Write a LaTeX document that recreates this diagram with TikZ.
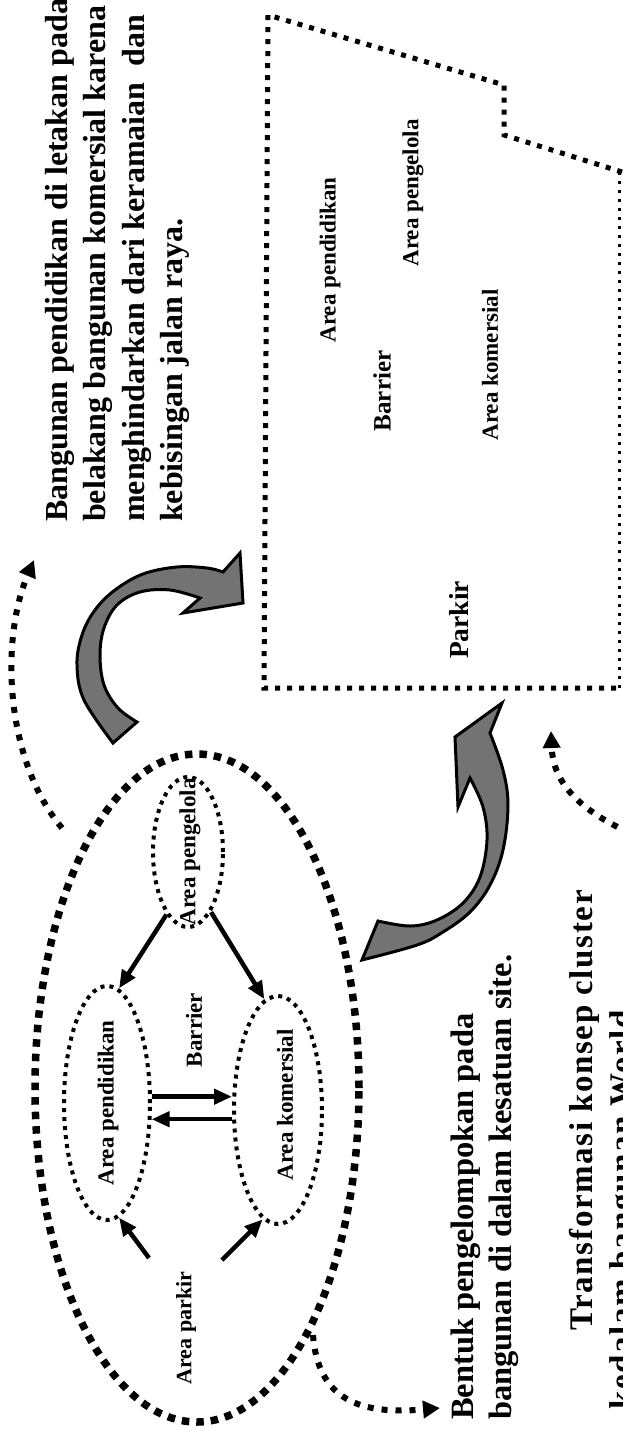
\documentclass[tikz,border=0pt]{standalone}
\usepackage{fontspec}
\setmainfont{Liberation Serif}
\usetikzlibrary{arrows.meta,shapes.geometric}
\begin{document}
\begin{tikzpicture}[x=1pt,y=-1pt,
  lbl/.style={font=\bfseries\fontsize{23}{26}\selectfont, rotate=90, inner sep=0pt},
  bigtxt/.style={font=\bfseries\fontsize{32}{38.5}\selectfont, rotate=90, inner sep=0pt, align=left},
  trf/.style={font=\bfseries\fontsize{33}{38}\selectfont\addfontfeature{LetterSpace=5}, rotate=90, inner sep=0pt},
  bigdots/.style={line width=7.5pt, dash pattern=on 7.5pt off 7pt},
  arcdots/.style={line width=6pt, dash pattern=on 6pt off 8pt, -{Triangle[length=17pt,width=17pt]}},
  sitedots/.style={line width=5pt, dash pattern=on 5pt off 7pt},
  smalldots/.style={line width=4pt, dash pattern=on 4pt off 5pt},
  blk/.style={line width=4.5pt, -{Triangle[length=18pt,width=15pt]}},
  grayarrow/.style={fill=black!55, draw=black, line width=3pt, line join=miter}
]
\useasboundingbox (0,0) rectangle (622,1430);
\fill[white] (0,0) rectangle (622,1430);

% top text
\node[bigtxt, anchor=north west] (t1) at (45,522) {Bangunan pendidikan di letakan pada\\ belakang bangunan komersial karena\\ menghindarkan dari keramaian\ \ dan\\ kebisingan jalan raya.};

% site outline
\draw[sitedots] (622,172) -- (504,135) -- (504,85) -- (268,15) -- (264,688) -- (619,688);
\draw[line width=3pt, dash pattern=on 3pt off 6pt] (619,688) -- (619,172);

% site labels
\node[lbl] (s1) at (330,260) {Area pendidikan};
\node[lbl] (s2) at (413,193) {Area pengelola};
\node[lbl, font=\bfseries\fontsize{25}{28}\selectfont] (s3) at (382,391) {Barrier};
\node[lbl] (s4) at (490,365) {Area komersial};
\node[lbl, font=\bfseries\fontsize{27.5}{30}\selectfont] (s5) at (459,620) {Parkir};

% gray curved arrows
\filldraw[grayarrow] (113,743) -- plot[smooth, tension=0.6] coordinates {(113,743) (84,700) (77,665) (82,635) (95,610) (115,590) (143,574) (177,567) (207,568) (223,572)} -- (240,553) -- (243,603) -- (183,613) -- (200,598) -- plot[smooth, tension=0.6] coordinates {(200,598) (170,590) (140,592) (117,605) (104,628) (100,655) (104,685) (118,708) (137,722)} -- cycle;
\filldraw[grayarrow] (362,960) -- plot[smooth, tension=0.6] coordinates {(362,960) (417,945) (443,932) (470,912) (490,885) (503,850) (508,805) (503,770) (490,733)} -- (502,703) -- (455,737) -- (458,807) -- (470,778) -- plot[smooth, tension=0.6] coordinates {(470,778) (483,807) (487,840) (480,877) (463,903) (437,920) (410,926) (378,921)} -- cycle;

% left cluster diagram
\node[draw, bigdots, ellipse, minimum width=324pt, minimum height=668pt, inner sep=0pt] (bigE) at (197,1088) {};
\node[draw, smalldots, ellipse, minimum width=70pt, minimum height=150pt, inner sep=0pt] (pengE) at (188,852) {};
\node[draw, smalldots, ellipse, minimum width=86pt, minimum height=234pt, inner sep=0pt] (pendE) at (107,1103) {};
\node[draw, smalldots, ellipse, minimum width=88pt, minimum height=228pt, inner sep=0pt] (komE) at (278,1110) {};
\node[lbl] (pengT) at (190,852) {Area pengelola};
\node[lbl] (pendT) at (108,1103) {Area pendidikan};
\node[lbl] (komT) at (285,1105) {Area komersial};
\node[lbl] (barT) at (194,1030) {Barrier};
\node[lbl, font=\bfseries\fontsize{22}{25}\selectfont] (parkT) at (186,1328) {Area parkir};

\draw[blk] (pengE.251) -- (pendE.84);
\draw[blk] (pengE.291) -- (komE.97);
\draw[blk] (pendE.8) -- (pendE.8 -| komE.west);
\draw[blk] (komE.west |- pendE.340) -- (pendE.340);
\coordinate (pk1) at (149,1258);
\coordinate (pk2) at (222,1260);
\draw[blk] (pk1) -- (pendE.276);
\draw[blk] (pk2) -- (komE.262);

% dotted curved arrows
\coordinate (d1s) at (62,828); \coordinate (d1e) at (34,560);
\draw[arcdots] (d1s) .. controls (5,760) and (0,640) .. (d1e);
\coordinate (d2s) at (313,1335); \coordinate (d2e) at (440,1408);
\draw[arcdots] (d2s) .. controls (318,1400) and (360,1415) .. (d2e);
\coordinate (d3s) at (630,833); \coordinate (d3e) at (551,731);
\draw[arcdots] (d3s) .. controls (575,808) and (553,780) .. (d3e);

% bottom texts
\node[bigtxt, font=\bfseries\fontsize{32.5}{38}\selectfont, anchor=north west] (t2) at (451,1420) {Bentuk pengelompokan pada\\ bangunan di dalam kesatuan site.};
\node[trf, anchor=base east] (t3) at (592,890) {Transformasi konsep cluster};
\node[trf, anchor=base west] (t4) at (632,1410) {kedalam bangunan World};
\end{tikzpicture}
\end{document}
